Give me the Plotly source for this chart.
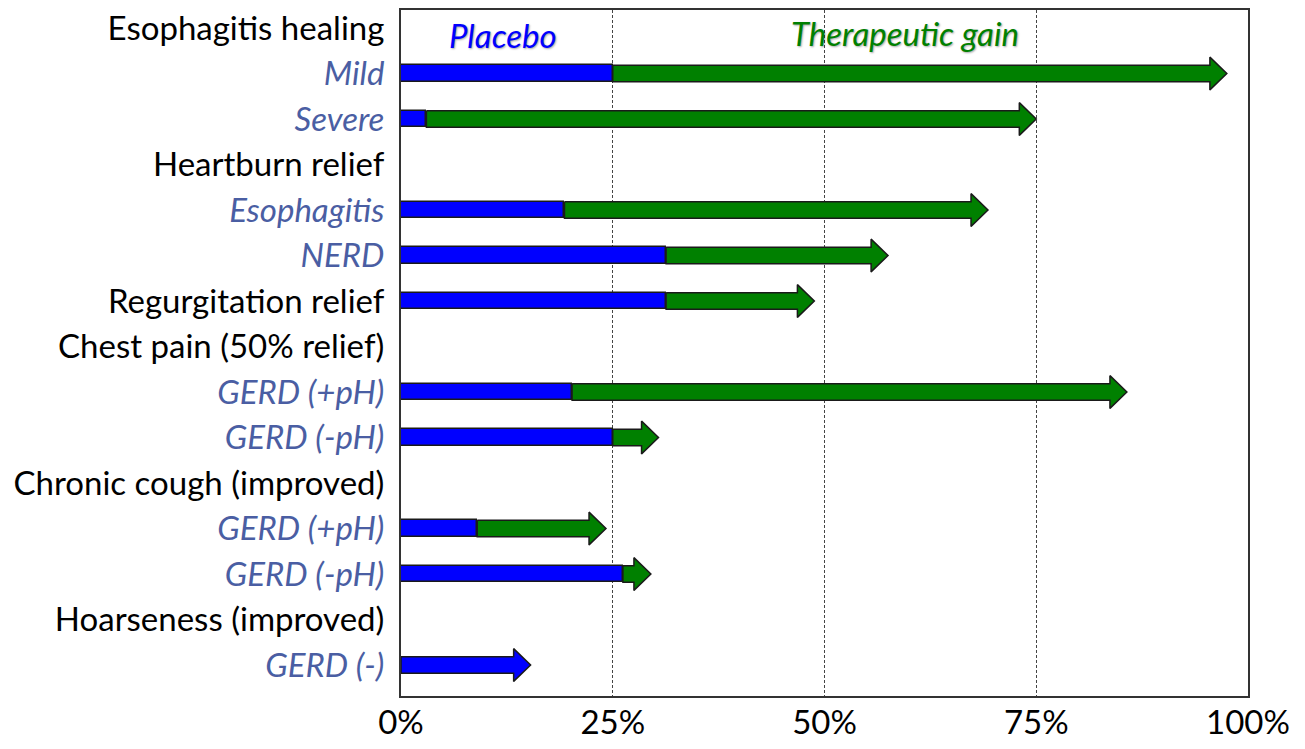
import plotly.graph_objects as go

# ---------------- data ----------------
labels = ["Esophagitis healing", "Mild", "Severe", "Heartburn relief", "Esophagitis", "NERD",
          "Regurgitation relief", "Chest pain (50% relief)", "GERD (+pH)", "GERD (-pH)",
          "Chronic cough (improved)", "GERD (+pH)", "GERD (-pH)", "Hoarseness (improved)", "GERD (-)"]
is_sub = [0, 1, 1, 0, 1, 1, 0, 0, 1, 1, 0, 1, 1, 0, 1]
placebo = [None, 25, 3, None, 19.3, 31.3, 31.3, None, 20.2, 25, None, 9, 26.2, None, 15.3]
total = [None, 97.5, 75, None, 69.3, 57.5, 48.8, None, 85.7, 30.4, None, 24.2, 29.5, None, 15.3]
x_ticks = [0, 25, 50, 75, 100]
x_ticktext = ["0%", "25%", "50%", "75%", "100%"]

# ---------------- style ----------------
BLUE = "#0000FF"
GREEN = "#008000"
SUBCOL = "#4A5EA3"
OUTLINE = "#1a1a1a"
FONT = "Lato"
FS = 33
BAR_HALF = 0.18      # half bar thickness (row units)
HEAD_HALF = 0.36     # half arrow head height (row units)
HEAD_LEN = 2.0       # arrow head length (x units)

rows = list(range(len(labels)))

def arrow_path(x0, x1, y):
    xh = x1 - HEAD_LEN
    xs = [x0, xh, xh, x1, xh, xh, x0, x0, None]
    ys = [y - BAR_HALF, y - BAR_HALF, y - HEAD_HALF, y, y + HEAD_HALF, y + BAR_HALF,
          y + BAR_HALF, y - BAR_HALF, None]
    return xs, ys

bar_y, bar_x = [], []
gx, gy, bx, by = [], [], [], []
for i, p, t in zip(rows, placebo, total):
    if p is None:
        continue
    if t > p:
        bar_y.append(i)
        bar_x.append(p)
        xs, ys = arrow_path(p, t, i)
        gx += xs
        gy += ys
    else:
        xs, ys = arrow_path(0, p, i)
        bx += xs
        by += ys

fig = go.Figure()
fig.add_trace(go.Bar(
    y=bar_y, x=bar_x, base=0, orientation="h", width=2 * BAR_HALF,
    marker=dict(color=BLUE, line=dict(color=OUTLINE, width=1.5)),
    hoverinfo="skip", showlegend=False))
fig.add_trace(go.Scatter(
    x=gx, y=gy, mode="lines", fill="toself", fillcolor=GREEN,
    line=dict(color=OUTLINE, width=1.5), hoverinfo="skip", showlegend=False))
fig.add_trace(go.Scatter(
    x=bx, y=by, mode="lines", fill="toself", fillcolor=BLUE,
    line=dict(color=OUTLINE, width=1.5), hoverinfo="skip", showlegend=False))

ticktext = [f"<i><span style='color:{SUBCOL}'>{lab}</span></i>" if s else lab
            for lab, s in zip(labels, is_sub)]

shadow = "1px 1px 2px rgba(0,0,0,0.35)"
fig.update_layout(
    width=1289, height=733,
    margin=dict(l=393, r=49, t=2, b=45, autoexpand=False),
    paper_bgcolor="white", plot_bgcolor="white",
    font=dict(family=FONT, size=FS, color="black"),
    bargap=0,
    xaxis=dict(range=[0, 100], tickvals=x_ticks, ticktext=x_ticktext, automargin=False,
               showgrid=True, gridcolor="#444444", gridwidth=1, griddash="3px,2px",
               zeroline=False, showline=True, linecolor="#333333", linewidth=2, mirror=True,
               ticks="", ticklabelstandoff=-4, ticklabeloverflow="allow",
               tickfont=dict(size=FS, color="black")),
    yaxis=dict(range=[14.681, -0.396], tickvals=rows, ticktext=ticktext, automargin=False,
               showgrid=False, zeroline=False, showline=True, linecolor="#333333",
               linewidth=2, mirror=True, ticks="", ticklabelstandoff=8,
               ticklabeloverflow="allow", tickfont=dict(size=FS, color="black")),
    annotations=[
        dict(text="<i>Placebo</i>", x=12, y=0.15, xref="x", yref="y", showarrow=False,
             font=dict(family=FONT, size=FS, color=BLUE, shadow=shadow)),
        dict(text="<i>Therapeutic gain</i>", x=59.5, y=0.1, xref="x", yref="y", showarrow=False,
             font=dict(family=FONT, size=FS, color=GREEN, shadow=shadow)),
    ],
)

fig.write_html("out.html")
